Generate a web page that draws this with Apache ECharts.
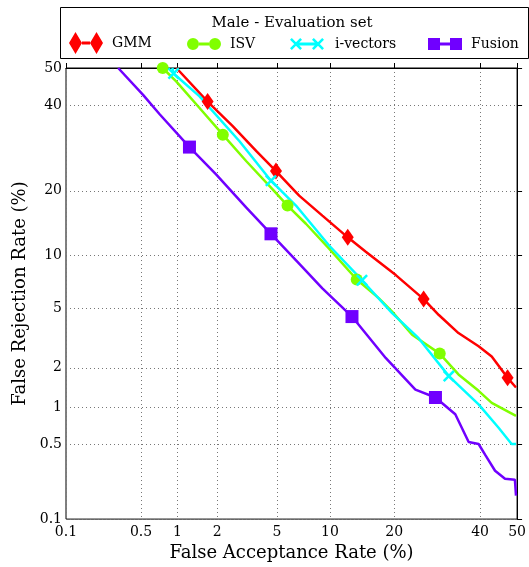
<!DOCTYPE html>
<html>
<head>
<meta charset="utf-8">
<script src="https://cdn.jsdelivr.net/npm/echarts@6/dist/echarts.min.js"></script>
<style>html,body{margin:0;padding:0;background:#fff}#c{width:529px;height:567px}</style>
</head>
<body>
<div id="c"></div>
<script>
// ---- data (percent values) ----
const tickPct = [0.1, 0.5, 1, 2, 5, 10, 20, 40, 50];
const tickLabels = ['0.1', '0.5', '1', '2', '5', '10', '20', '40', '50'];
const axisMinPct = 0.1;
const axisMaxPct = 50;

const seriesNames = ['GMM', 'ISV', 'i-vectors', 'Fusion'];

const gmmFAR = [0.98, 1.70, 2.57, 3.69, 4.93, 6.77, 9.11, 12.3, 15.0, 20.3, 26.1, 29.6, 34.4, 39.6, 43.1, 47.4, 49.7];
const gmmFRR = [50, 40.9, 34.5, 28.5, 24.0, 19.1, 15.6, 12.3, 10.4, 7.8, 5.67, 4.53, 3.47, 2.83, 2.41, 1.69, 1.43];
const gmmMarks = [1, 4, 7, 10, 15];

const isvFAR = [0.76, 0.98, 1.48, 2.19, 3.17, 4.70, 5.79, 7.40, 9.89, 13.6, 17.2, 19.6, 23.6, 29.8, 34.4, 39.6, 43.1, 49.7];
const isvFRR = [50, 46.3, 39.2, 32.4, 26.2, 20.3, 17.3, 14.3, 10.8, 7.37, 5.73, 4.76, 3.38, 2.52, 1.79, 1.35, 1.09, 0.86];
const isvMarks = [0, 3, 6, 9, 13];

const ivecFAR = [0.91, 0.93, 1.48, 2.86, 4.59, 6.49, 9.89, 14.4, 19.6, 25.0, 32.0, 39.6, 44.9, 48.5, 49.7];
const ivecFRR = [50, 48.5, 42.3, 30.8, 22.0, 17.3, 11.2, 7.30, 4.65, 3.21, 1.74, 1.06, 0.69, 0.50, 0.50];
const ivecMarks = [1, 4, 7, 10];

const fusFAR = [0.314, 0.52, 0.72, 1.24, 1.96, 3.17, 4.59, 6.77, 9.11, 12.9, 18.4, 24.3, 28.8, 33.6, 37.0, 39.6, 41.4, 44.0, 46.7, 49.4, 49.7];
const fusFRR = [50, 42.7, 37.5, 29.4, 23.3, 17.0, 12.8, 9.01, 6.55, 4.43, 2.35, 1.38, 1.20, 0.885, 0.52, 0.50, 0.40, 0.29, 0.245, 0.24, 0.17];
const fusMarks = [3, 6, 9, 12];

// ---- normal deviate (probit) scale ----
function probit(p) {
  const a = [-3.969683028665376e+01, 2.209460984245205e+02, -2.759285104469687e+02, 1.383577518672690e+02, -3.066479806614716e+01, 2.506628277459239e+00];
  const b = [-5.447609879822406e+01, 1.615858368580409e+02, -1.556989798598866e+02, 6.680131188771972e+01, -1.328068155288572e+01];
  const c = [-7.784894002430293e-03, -3.223964580411365e-01, -2.400758277161838e+00, -2.549732539343734e+00, 4.374664141464968e+00, 2.938163982698783e+00];
  const d = [7.784695709041462e-03, 3.224671290700398e-01, 2.445134137142996e+00, 3.754408661907416e+00];
  const pl = 0.02425, ph = 1 - pl;
  let q, r;
  if (p < pl) { q = Math.sqrt(-2 * Math.log(p)); return (((((c[0]*q+c[1])*q+c[2])*q+c[3])*q+c[4])*q+c[5]) / ((((d[0]*q+d[1])*q+d[2])*q+d[3])*q+1); }
  if (p <= ph) { q = p - 0.5; r = q*q; return (((((a[0]*r+a[1])*r+a[2])*r+a[3])*r+a[4])*r+a[5])*q / (((((b[0]*r+b[1])*r+b[2])*r+b[3])*r+b[4])*r+1); }
  q = Math.sqrt(-2 * Math.log(1 - p)); return -(((((c[0]*q+c[1])*q+c[2])*q+c[3])*q+c[4])*q+c[5]) / ((((d[0]*q+d[1])*q+d[2])*q+d[3])*q+1);
}
const P = v => probit(v / 100);
const tickVals = tickPct.map(P);
function fmt(v) {
  let best = 0, bd = Infinity;
  tickVals.forEach((t, i) => { const dd = Math.abs(t - v); if (dd < bd) { bd = dd; best = i; } });
  return tickLabels[best];
}

const FONT = '"DejaVu Serif", serif';
const colors = ['#ff0000', '#80ff00', '#00ffff', '#7000ff'];

const crossPath = 'path://M0,1.8 L1.8,0 L12,10.2 L10.2,12 Z M10.2,0 L12,1.8 L1.8,12 L0,10.2 Z';
const symbols = [
  {symbol: 'diamond', size: [12, 17]},
  {symbol: 'circle', size: 12},
  {symbol: crossPath, size: 12},
  {symbol: 'rect', size: 13}
];
const icons = [
  'path://M0,11 L6.5,0 L13,11 L6.5,22 Z M21,11 L27.5,0 L34,11 L27.5,22 Z M13,9.6 L21,9.6 L21,12.4 L13,12.4 Z',
  'path://M0,6 A6,6 0 1,1 12,6 A6,6 0 1,1 0,6 Z M22,6 A6,6 0 1,1 34,6 A6,6 0 1,1 22,6 Z M12,4.6 L22,4.6 L22,7.4 L12,7.4 Z',
  'path://M0,1.8 L1.8,0 L12,10.2 L10.2,12 Z M10.2,0 L12,1.8 L1.8,12 L0,10.2 Z M22,1.8 L23.8,0 L34,10.2 L32.2,12 Z M32.2,0 L34,1.8 L23.8,12 L22,10.2 Z M7,4.6 L27,4.6 L27,7.4 L7,7.4 Z',
  'path://M0,0 L12,0 L12,12 L0,12 Z M22,0 L34,0 L34,12 L22,12 Z M12,4.6 L22,4.6 L22,7.4 L12,7.4 Z'
];

function buildData(far, frr, marks, k) {
  return far.map((x, i) => {
    const item = {value: [P(x), P(frr[i])]};
    if (marks.indexOf(i) >= 0) { item.symbol = symbols[k].symbol; item.symbolSize = symbols[k].size; }
    return item;
  });
}
const allData = [
  buildData(gmmFAR, gmmFRR, gmmMarks, 0),
  buildData(isvFAR, isvFRR, isvMarks, 1),
  buildData(ivecFAR, ivecFRR, ivecMarks, 2),
  buildData(fusFAR, fusFRR, fusMarks, 3)
];

const legendLefts = [64, 182, 285, 423];
const legendTops = [27, 32, 32, 32];
const legendPads = [4, 4, 6, 4];

function axisCommon(name, isX) {
  return {
    type: 'value',
    min: P(axisMinPct),
    max: P(axisMaxPct),
    name: name,
    nameLocation: 'middle',
    nameGap: isX ? 22 : 36,
    nameTextStyle: {fontFamily: FONT, fontSize: 18, color: '#000'},
    axisLine: {show: true, lineStyle: {color: '#000', width: 1}},
    axisTick: {show: true, inside: true, length: 5, lineStyle: {color: '#000'}, customValues: tickVals},
    axisLabel: {show: true, customValues: tickVals, formatter: fmt, fontFamily: FONT, fontSize: 14, color: '#000', margin: isX ? 6 : 4},
    splitLine: {show: true, lineStyle: {color: '#777', width: 1, type: [1, 3]}}
  };
}

const chart = echarts.init(document.getElementById('c'), null, {renderer: 'canvas'});
chart.setOption({
  animation: false,
  backgroundColor: '#fff',
  grid: {left: 66, right: 11, top: 68, bottom: 44, show: true, borderColor: '#000', borderWidth: 1, backgroundColor: 'transparent'},
  xAxis: axisCommon('False Acceptance Rate (%)', true),
  yAxis: axisCommon('False Rejection Rate (%)', false),
  legend: seriesNames.map((n, i) => ({
    data: [{name: n, icon: icons[i]}],
    left: legendLefts[i], top: legendTops[i],
    itemWidth: 34, itemHeight: 22,
    selectedMode: false,
    itemStyle: {borderWidth: 0},
    textStyle: {fontFamily: FONT, fontSize: 14, color: '#000', padding: [0, 0, 0, legendPads[i]]}
  })),
  graphic: [
    {type: 'rect', left: 58, top: 5, shape: {width: 468, height: 51}, style: {fill: 'none', stroke: '#000', lineWidth: 1}, z: 10},
    {type: 'text', x: 292, y: 23, z: 10, style: {text: 'Male - Evaluation set', font: '15px "DejaVu Serif"', fill: '#000', align: 'center', verticalAlign: 'middle', textAlign: 'center', textVerticalAlign: 'middle'}}
  ],
  series: seriesNames.map((n, i) => ({
    name: n,
    type: 'line',
    data: allData[i],
    symbol: 'none',
    showSymbol: true,
    showAllSymbol: true,
    clip: true,
    color: colors[i],
    lineStyle: {color: colors[i], width: 2.5},
    itemStyle: {color: colors[i], borderWidth: 0},
    emphasis: {disabled: true}
  }))
});
</script>
</body>
</html>
